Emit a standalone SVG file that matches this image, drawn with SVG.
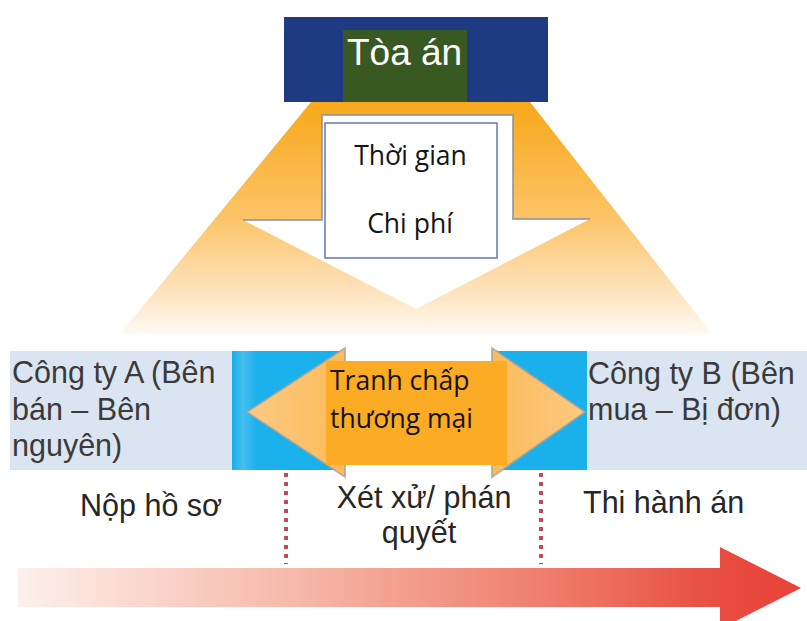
<svg xmlns="http://www.w3.org/2000/svg" width="807" height="621" viewBox="0 0 807 621">
  <style>
    .cal { font-family: "Open Sans", "Noto Sans", "DejaVu Sans", sans-serif; font-size: 26.5px; font-weight: 500; fill: #141414; }
    .ari { font-family: "Liberation Sans", Arial, sans-serif; font-size: 30.5px; fill: #3a3a3a; }
    .bot { font-family: "Liberation Sans", Arial, sans-serif; font-size: 30.5px; fill: #262626; }
    .divider { stroke: #c4495a; stroke-width: 4; stroke-dasharray: 4 5; fill: none; }
    .head { fill: url(#headGrad); stroke: #a0a0a0; stroke-width: 2; stroke-opacity: 0.7; }
  </style>
  <defs>
    <linearGradient id="coneGrad" gradientUnits="userSpaceOnUse" x1="0" y1="102" x2="0" y2="334">
      <stop offset="0" stop-color="#f8a81b"/>
      <stop offset="0.5" stop-color="#fcc467"/>
      <stop offset="0.85" stop-color="#fee6c6"/>
      <stop offset="1" stop-color="#fffaf4"/>
    </linearGradient>
    <linearGradient id="cyanGradL" x1="0" y1="0" x2="1" y2="0">
      <stop offset="0" stop-color="#1aaee8"/>
      <stop offset="0.1" stop-color="#45bfee"/>
      <stop offset="0.22" stop-color="#1cb1ec"/>
      <stop offset="1" stop-color="#18b0ec"/>
    </linearGradient>
    <linearGradient id="headGrad" x1="0" y1="0" x2="1" y2="0">
      <stop offset="0" stop-color="#fcca82"/>
      <stop offset="1" stop-color="#fbbb5a"/>
    </linearGradient>
    <linearGradient id="headGradR" x1="0" y1="0" x2="1" y2="0">
      <stop offset="0" stop-color="#fbbb5a"/>
      <stop offset="1" stop-color="#fcca82"/>
    </linearGradient>
    <linearGradient id="redGrad" gradientUnits="userSpaceOnUse" x1="18" y1="0" x2="801" y2="0">
      <stop offset="0" stop-color="#fdf0ec"/>
      <stop offset="0.35" stop-color="#f6b9aa"/>
      <stop offset="0.65" stop-color="#f08270"/>
      <stop offset="0.9" stop-color="#e84c40"/>
      <stop offset="1" stop-color="#e8413a"/>
    </linearGradient>
  </defs>

  <rect x="0" y="0" width="807" height="621" fill="#ffffff"/>

  <g id="cone">
    <polygon points="311,102 530,102 712,334 120,334" fill="url(#coneGrad)"/>
  </g>

  <g id="court">
    <rect x="284" y="17" width="264" height="85" fill="#1d3a82"/>
    <rect x="343" y="30" width="124" height="72" fill="#385a22"/>
    <text x="347" y="65" font-family="Liberation Sans, Arial, sans-serif" font-size="37" fill="#ffffff">Tòa án</text>
  </g>

  <g id="cost-arrow">
    <polygon points="322,115 513,115 513,219 590,219 416,309 243,220 322,220" fill="#ffffff"/>
    <polyline points="243,220 322,220 322,115 513,115 513,219 590,219" fill="none" stroke="#8c8c9c" stroke-width="2" stroke-opacity="0.75"/>
    <rect x="325" y="123" width="172" height="135" fill="#ffffff" stroke="#6676b2" stroke-width="1.5"/>
    <text class="cal" x="410.5" y="165" text-anchor="middle">Thời gian</text>
    <text class="cal" x="410" y="233" text-anchor="middle">Chi phí</text>
  </g>

  <g id="company-a">
    <rect x="10" y="351" width="222" height="119" fill="#dbe5f1"/>
    <rect x="232" y="351" width="110" height="119" fill="url(#cyanGradL)"/>
    <text class="ari" x="12" y="383">Công ty A (Bên</text>
    <text class="ari" x="12" y="420">bán – Bên</text>
    <text class="ari" x="12" y="456">nguyên)</text>
  </g>

  <g id="company-b">
    <rect x="587" y="351" width="220" height="119" fill="#dbe5f1"/>
    <rect x="495" y="351" width="92" height="119" fill="#19b0ec"/>
    <text class="ari" x="588" y="384">Công ty B (Bên</text>
    <text class="ari" x="588" y="420">mua – Bị đơn)</text>
  </g>

  <g id="dispute">
    <polygon class="head" points="345,348 247,412 345,477"/>
    <polygon class="head" points="492,348 585,412 492,477" style="fill:url(#headGradR)"/>
    <rect x="326" y="361" width="181" height="104" fill="#fcab25"/>
    <text class="cal" x="330" y="390">Tranh chấp</text>
    <text class="cal" x="330" y="428">thương mại</text>
  </g>

  <g id="stage-filing">
    <text class="bot" x="80" y="516">Nộp hồ sơ</text>
  </g>
  <g id="stage-trial">
    <text class="bot" x="424" y="508" text-anchor="middle">Xét xử/ phán</text>
    <text class="bot" x="419" y="543" text-anchor="middle">quyết</text>
  </g>
  <g id="stage-enforce">
    <text class="bot" x="583" y="513">Thi hành án</text>
  </g>

  <g id="connectors">
    <line class="divider" x1="286" y1="473" x2="286" y2="564"/>
    <line class="divider" x1="541" y1="473" x2="541" y2="564"/>
    <polygon points="18,568 720,568 720,547 801,588 720,629 720,607 18,607" fill="url(#redGrad)"/>
  </g>
</svg>
